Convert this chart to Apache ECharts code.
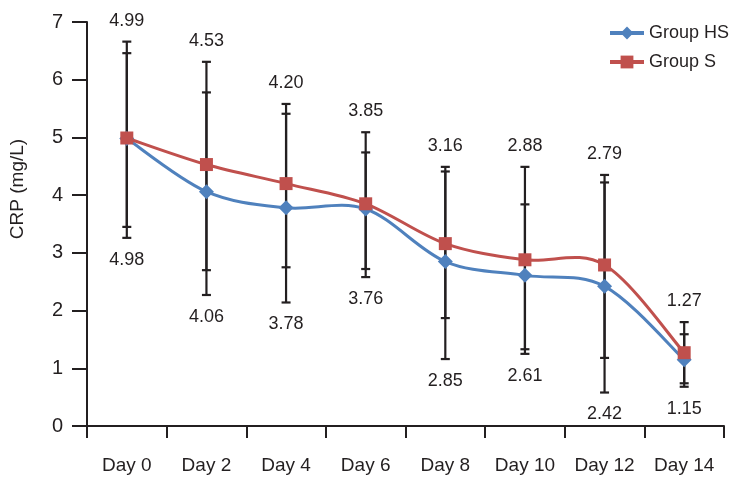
<!DOCTYPE html>
<html>
<head>
<meta charset="utf-8">
<script src="https://cdn.jsdelivr.net/npm/echarts@6/dist/echarts.min.js"></script>
<style>
html,body{margin:0;padding:0;background:#fff;}
#chart{width:749px;height:492px;}
</style>
</head>
<body>
<div id="chart"></div>
<script>
const categories = ['Day 0', 'Day 2', 'Day 4', 'Day 6', 'Day 8', 'Day 10', 'Day 12', 'Day 14'];
const hsMean = [4.98, 4.06, 3.78, 3.76, 2.85, 2.61, 2.42, 1.15];
const sMean  = [4.99, 4.53, 4.20, 3.85, 3.16, 2.88, 2.79, 1.27];
const hsLow  = [3.45, 2.27, 2.14, 2.72, 1.16, 1.33, 0.58, 0.68];
const hsHigh = [6.46, 5.78, 5.41, 4.74, 4.41, 3.84, 4.22, 1.59];
const sLow   = [3.26, 2.70, 2.75, 2.58, 1.87, 1.25, 1.18, 0.74];
const sHigh  = [6.66, 6.31, 5.58, 5.09, 4.49, 4.49, 4.35, 1.80];
const yTicks = [0, 1, 2, 3, 4, 5, 6, 7];

const INK = '#231f20';
const BLUE = '#4F81BD';
const RED = '#C0504D';
const FONT = '"Liberation Sans", Arial, sans-serif';

function errData(lo, hi) {
  return categories.map((c, i) => [i, lo[i], hi[i]]);
}
function errRender(params, api) {
  const x = api.value(0);
  const lo = api.coord([x, api.value(1)]);
  const hi = api.coord([x, api.value(2)]);
  const w = 4.5;
  const st = { stroke: INK, lineWidth: 2.2 };
  return {
    type: 'group',
    children: [
      { type: 'line', shape: { x1: lo[0], y1: lo[1], x2: hi[0], y2: hi[1] }, style: st },
      { type: 'line', shape: { x1: hi[0] - w, y1: hi[1], x2: hi[0] + w, y2: hi[1] }, style: st },
      { type: 'line', shape: { x1: lo[0] - w, y1: lo[1], x2: lo[0] + w, y2: lo[1] }, style: st }
    ]
  };
}
const labelData = categories.map((c, i) => [
  i,
  Math.max(sHigh[i], hsHigh[i]),
  Math.min(sLow[i], hsLow[i]),
  sMean[i].toFixed(2),
  hsMean[i].toFixed(2)
]);
function labelRender(params, api) {
  const x = api.value(0);
  const top = api.coord([x, api.value(1)]);
  const bot = api.coord([x, api.value(2)]);
  const ts = { fill: INK, font: '18px ' + FONT, textAlign: 'center', textVerticalAlign: 'middle' };
  return {
    type: 'group',
    children: [
      { type: 'text', x: top[0], y: top[1] - 21, style: Object.assign({ text: labelData[params.dataIndex][3] }, ts) },
      { type: 'text', x: bot[0], y: bot[1] + 22, style: Object.assign({ text: labelData[params.dataIndex][4] }, ts) }
    ]
  };
}
// Excel-like smoothed curve (Catmull-Rom as cubic Bezier), one segment per data item
function curveRender(values, color) {
  return function (params, api) {
    const i = params.dataIndex;
    const n = values.length;
    if (i >= n - 1) return null;
    const P = k => api.coord([Math.max(0, Math.min(n - 1, k)), values[Math.max(0, Math.min(n - 1, k))]]);
    const p0 = P(i - 1), p1 = P(i), p2 = P(i + 1), p3 = P(i + 2);
    const t = 1 / 6;
    return {
      type: 'bezierCurve',
      shape: {
        x1: p1[0], y1: p1[1],
        cpx1: p1[0] + (p2[0] - p0[0]) * t, cpy1: p1[1] + (p2[1] - p0[1]) * t,
        cpx2: p2[0] - (p3[0] - p1[0]) * t, cpy2: p2[1] - (p3[1] - p1[1]) * t,
        x2: p2[0], y2: p2[1]
      },
      style: { stroke: color, lineWidth: 3, fill: null }
    };
  };
}

const chart = echarts.init(document.getElementById('chart'), null, { renderer: 'canvas' });
chart.setOption({
  animation: false,
  backgroundColor: '#fff',
  textStyle: { fontFamily: FONT },
  grid: { left: 87, right: 25, top: 22, bottom: 66 },
  legend: {
    orient: 'vertical',
    left: 603,
    top: 19,
    itemWidth: 34,
    itemHeight: 16,
    itemGap: 11,
    textStyle: { fontSize: 18, color: INK, fontFamily: FONT },
    data: [
      { name: 'Group HS', lineStyle: { color: BLUE, width: 4, opacity: 1 } },
      { name: 'Group S', lineStyle: { color: RED, width: 4, opacity: 1 } }
    ]
  },
  xAxis: {
    type: 'category',
    data: categories,
    boundaryGap: true,
    axisLine: { lineStyle: { color: INK, width: 2 } },
    axisTick: { show: true, interval: 0, length: 12, lineStyle: { color: INK, width: 2 } },
    axisLabel: { interval: 0, color: INK, fontSize: 19, margin: 30, fontFamily: FONT },
    splitLine: { show: false }
  },
  yAxis: {
    type: 'value',
    min: yTicks[0],
    max: yTicks[yTicks.length - 1],
    interval: 1,
    name: 'CRP (mg/L)',
    nameLocation: 'middle',
    nameGap: 60,
    nameTextStyle: { fontSize: 19, color: INK, fontFamily: FONT, padding: [0, 0, 0, 70] },
    axisLine: { show: true, lineStyle: { color: INK, width: 2 } },
    axisTick: { show: true, length: 15, lineStyle: { color: INK, width: 2 } },
    axisLabel: { color: INK, fontSize: 20, margin: 24, fontFamily: FONT },
    splitLine: { show: false }
  },
  series: [
    { type: 'custom', name: 'errHS', data: errData(hsLow, hsHigh), renderItem: errRender, z: 1, silent: true },
    { type: 'custom', name: 'errS', data: errData(sLow, sHigh), renderItem: errRender, z: 1, silent: true },
    { type: 'custom', name: 'labels', data: labelData.map(d => [d[0], d[1], d[2]]), renderItem: labelRender, z: 5, silent: true },
    { type: 'custom', name: 'curveHS', data: hsMean.map((v, i) => [i, v]), renderItem: curveRender(hsMean, BLUE), z: 2, silent: true },
    { type: 'custom', name: 'curveS', data: sMean.map((v, i) => [i, v]), renderItem: curveRender(sMean, RED), z: 3, silent: true },
    {
      type: 'line', name: 'Group HS', data: hsMean,
      symbol: 'diamond', symbolSize: 15,
      lineStyle: { color: BLUE, width: 3, opacity: 0 },
      itemStyle: { color: BLUE },
      z: 4
    },
    {
      type: 'line', name: 'Group S', data: sMean,
      symbol: 'rect', symbolSize: 13,
      lineStyle: { color: RED, width: 3, opacity: 0 },
      itemStyle: { color: RED },
      z: 4
    }
  ]
});
</script>
</body>
</html>
